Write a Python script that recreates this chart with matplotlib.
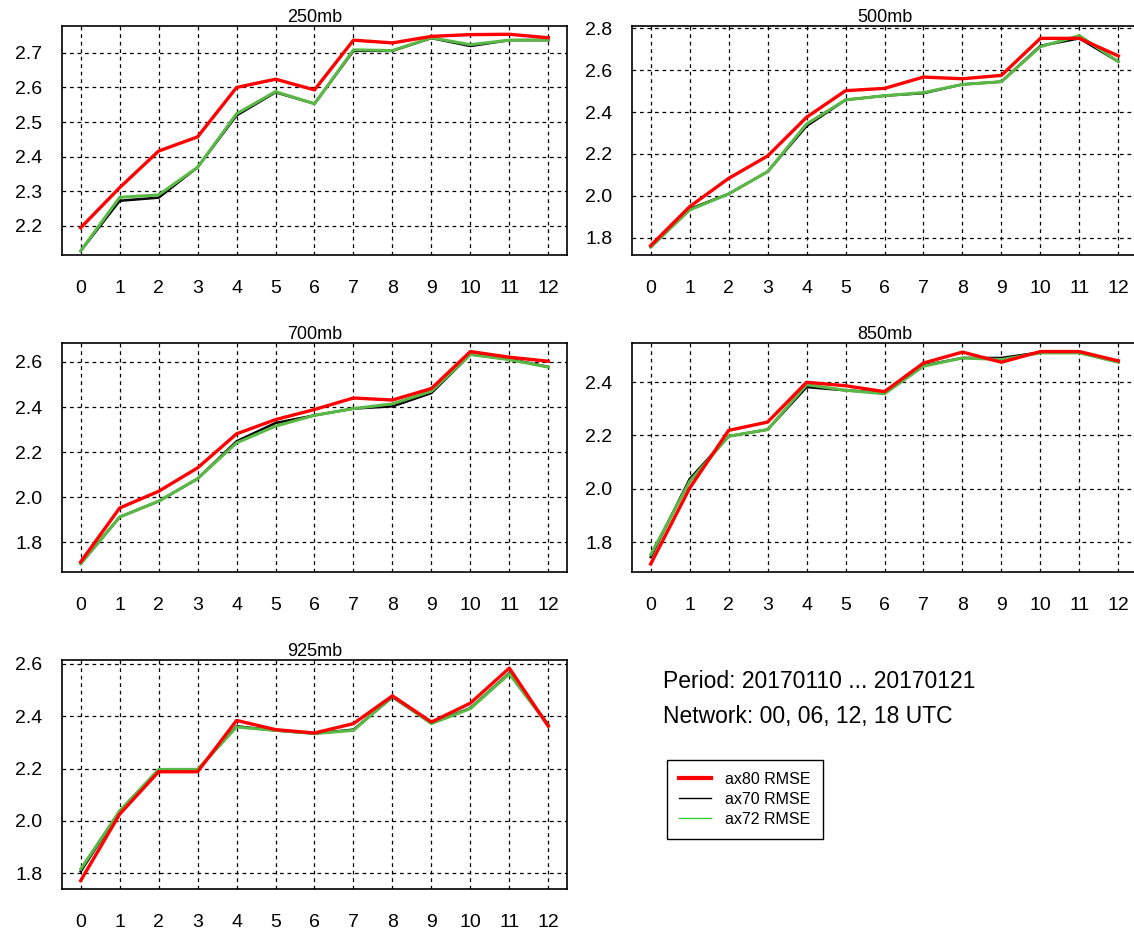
import numpy as np
import matplotlib.pyplot as plt
from matplotlib.lines import Line2D

plt.rcParams['font.family'] = ['Liberation Sans', 'DejaVu Sans']

steps = list(range(13))
levels = ['250mb', '500mb', '700mb', '850mb', '925mb']

ax80 = {
    '250mb': [2.194, 2.31, 2.416, 2.457, 2.60, 2.624, 2.593, 2.737, 2.729, 2.748, 2.753, 2.754, 2.744],
    '500mb': [1.762, 1.948, 2.083, 2.190, 2.375, 2.502, 2.513, 2.567, 2.559, 2.575, 2.752, 2.752, 2.668],
    '700mb': [1.713, 1.952, 2.026, 2.130, 2.281, 2.344, 2.389, 2.440, 2.431, 2.482, 2.646, 2.621, 2.603],
    '850mb': [1.719, 2.003, 2.219, 2.250, 2.399, 2.386, 2.364, 2.471, 2.512, 2.474, 2.514, 2.514, 2.479],
    '925mb': [1.772, 2.026, 2.188, 2.188, 2.384, 2.349, 2.336, 2.372, 2.478, 2.378, 2.450, 2.584, 2.362],
}
ax70 = {
    '250mb': [2.127, 2.272, 2.281, 2.369, 2.519, 2.586, 2.553, 2.706, 2.706, 2.743, 2.720, 2.737, 2.737],
    '500mb': [1.755, 1.937, 2.009, 2.115, 2.333, 2.458, 2.478, 2.490, 2.532, 2.545, 2.716, 2.752, 2.641],
    '700mb': [1.705, 1.912, 1.982, 2.082, 2.248, 2.329, 2.363, 2.393, 2.403, 2.462, 2.633, 2.613, 2.578],
    '850mb': [1.745, 2.037, 2.197, 2.222, 2.381, 2.369, 2.359, 2.462, 2.490, 2.490, 2.511, 2.511, 2.475],
    '925mb': [1.807, 2.038, 2.194, 2.194, 2.362, 2.346, 2.334, 2.349, 2.473, 2.374, 2.431, 2.565, 2.368],
}
ax72 = {
    '250mb': [2.127, 2.282, 2.289, 2.369, 2.524, 2.588, 2.553, 2.709, 2.707, 2.744, 2.724, 2.737, 2.738],
    '500mb': [1.755, 1.932, 2.009, 2.115, 2.343, 2.458, 2.478, 2.493, 2.532, 2.545, 2.712, 2.765, 2.641],
    '700mb': [1.705, 1.912, 1.982, 2.082, 2.241, 2.315, 2.363, 2.393, 2.414, 2.470, 2.633, 2.610, 2.577],
    '850mb': [1.754, 2.028, 2.197, 2.222, 2.390, 2.369, 2.356, 2.459, 2.490, 2.484, 2.509, 2.509, 2.474],
    '925mb': [1.816, 2.038, 2.197, 2.197, 2.359, 2.346, 2.334, 2.346, 2.476, 2.372, 2.429, 2.562, 2.365],
}

ylims = {
    '250mb': (2.115, 2.778),
    '500mb': (1.717, 2.811),
    '700mb': (1.668, 2.684),
    '850mb': (1.689, 2.546),
    '925mb': (1.740, 2.615),
}
yticks = {
    '250mb': [2.2, 2.3, 2.4, 2.5, 2.6, 2.7],
    '500mb': [1.8, 2.0, 2.2, 2.4, 2.6, 2.8],
    '700mb': [1.8, 2.0, 2.2, 2.4, 2.6],
    '850mb': [1.8, 2.0, 2.2, 2.4],
    '925mb': [1.8, 2.0, 2.2, 2.4, 2.6],
}

W, H = 1134, 931
fig = plt.figure(figsize=(W / 100, H / 100), dpi=100)

# pixel boxes: left, top, right, bottom
boxes = {
    '250mb': (62, 26, 567, 255),
    '500mb': (632, 26, 1137, 255),
    '700mb': (62, 343, 567, 572),
    '850mb': (632, 343, 1137, 572),
    '925mb': (62, 660, 567, 889),
}

green = '#5ab946'
for lev in levels:
    l, t, r, b = boxes[lev]
    ax = fig.add_axes([l / W, 1 - b / H, (r - l) / W, (b - t) / H])
    ax.plot(steps, ax70[lev], color='black', lw=1.8, zorder=3)
    ax.plot(steps, ax72[lev], color=green, lw=2.2, zorder=4)
    ax.plot(steps, ax80[lev], color='#ff0000', lw=2.4, zorder=5)
    ax.set_xlim(-0.48, 12.48)
    ax.set_ylim(*ylims[lev])
    ax.set_xticks(steps)
    ax.set_yticks(yticks[lev])
    ax.set_yticklabels(['%.1f' % v for v in yticks[lev]])
    ax.grid(True, color='black', linestyle=(0, (3, 3)), linewidth=0.9)
    ax.tick_params(axis='x', length=0, pad=18, labelsize=14)
    ax.tick_params(axis='y', length=0, pad=14, labelsize=14)
    for s in ax.spines.values():
        s.set_linewidth(1.2)
    ax.set_title(lev, fontsize=13, pad=3)

fig.text(663 / W, 1 - 688 / H, 'Period: 20170110 ... 20170121', fontsize=16.5, va='baseline')
fig.text(663 / W, 1 - 723 / H, 'Network: 00, 06, 12, 18 UTC', fontsize=16.5, va='baseline')

handles = [Line2D([], [], color='#ff0000', lw=3),
           Line2D([], [], color='black', lw=1),
           Line2D([], [], color='#33cc33', lw=1)]
leg = fig.legend(handles, ['ax80 RMSE', 'ax70 RMSE', 'ax72 RMSE'],
                 loc='upper left', bbox_to_anchor=(667 / W, 1 - 760 / H),
                 borderaxespad=0, fontsize=11.5, fancybox=False, framealpha=1,
                 edgecolor='black', handlelength=2.0, labelspacing=0.3,
                 borderpad=0.75, handletextpad=0.9)
leg.get_frame().set_linewidth(1.0)

fig.savefig('out.png', dpi=100)
